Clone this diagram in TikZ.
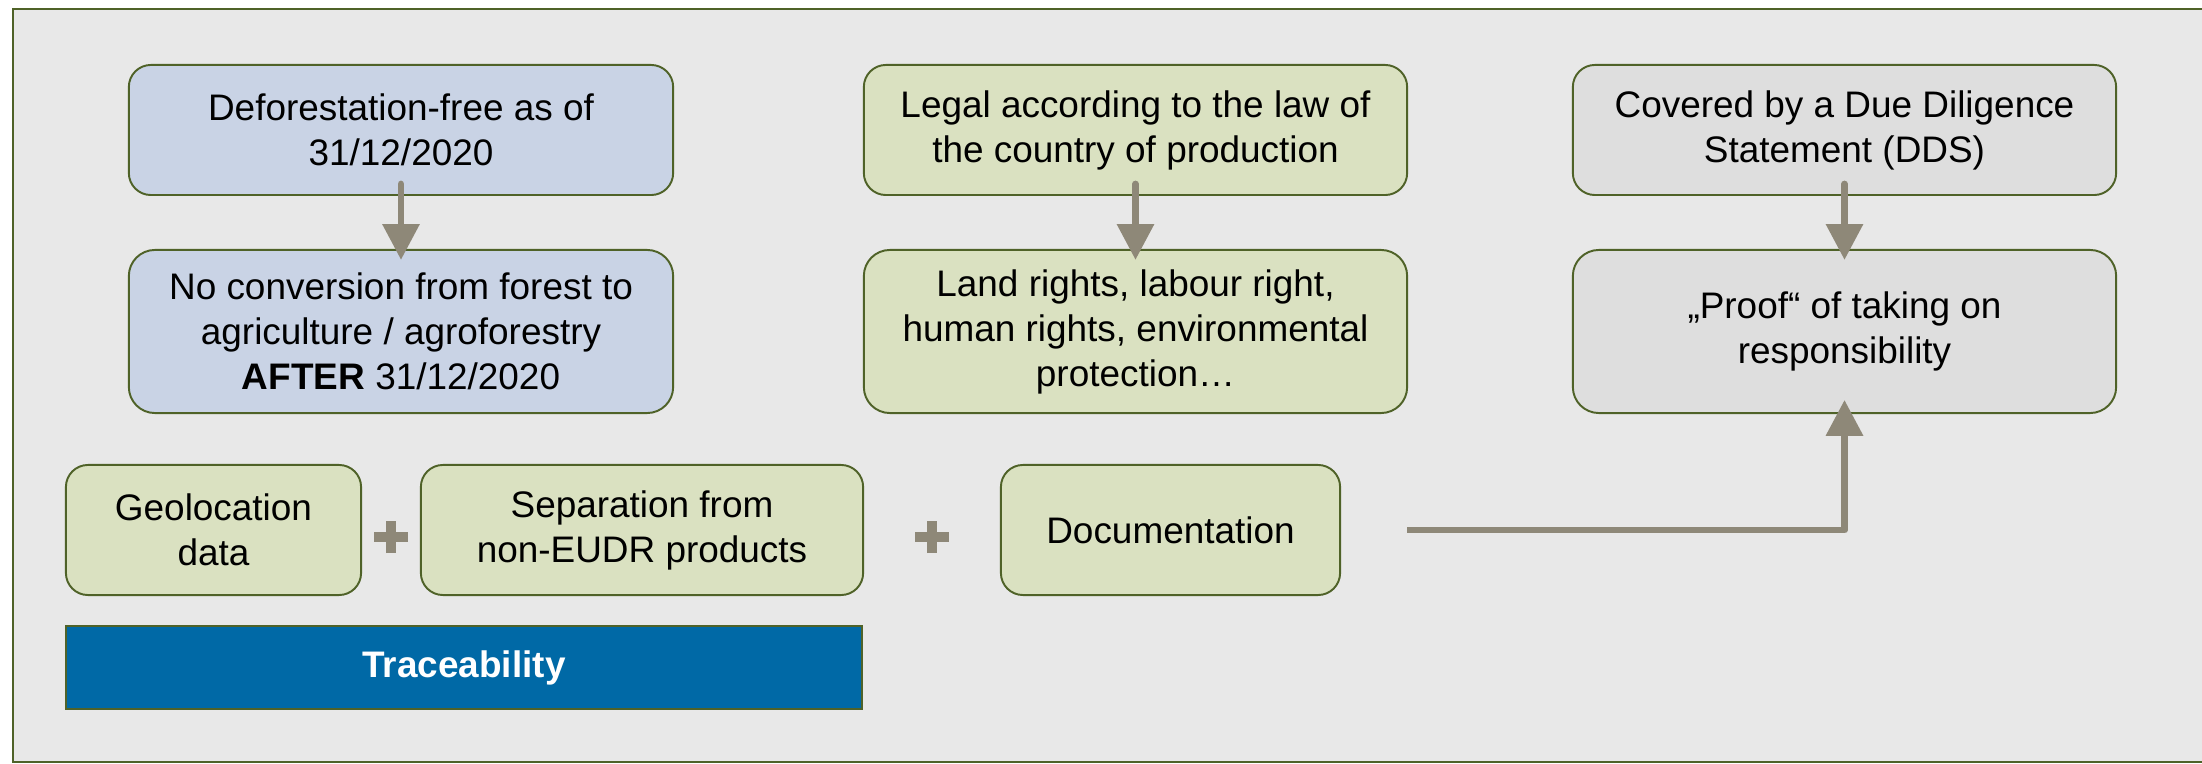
\documentclass[tikz,border=0pt]{standalone}
\usepackage{fontspec}
\setmainfont{Liberation Sans}
\usetikzlibrary{arrows.meta}
\definecolor{bgc}{HTML}{E8E8E8}
\definecolor{framec}{HTML}{4F6228}
\definecolor{bluec}{HTML}{C9D3E5}
\definecolor{greenc}{HTML}{DAE1C1}
\definecolor{greyc}{HTML}{DEDEDE}
\definecolor{arrowc}{HTML}{8E8878}
\definecolor{tracec}{HTML}{0069A6}
\tikzset{
  box/.style={draw=framec, line width=0.55pt, align=center, inner sep=0pt,
    font=\fontsize{10.5pt}{12.8pt}\selectfont, text=black},
  tallbox/.style={box, minimum width=5.44cm, minimum height=1.63cm, rounded corners=0.26cm},
  shortbox/.style={box, minimum height=1.30cm, rounded corners=0.22cm},
  flow/.style={draw=arrowc, line width=1.95pt, -{Triangle[length=10.2pt,width=10.2pt]}},
  plussign/.style={draw=arrowc, line width=2.6pt}
}
\begin{document}
\begin{tikzpicture}[x=0.01cm, y=-0.01cm]
\useasboundingbox (0,0) rectangle (2202,764);
% outer frame
\draw[fill=bgc, draw=framec, line width=0.6pt] (13,9) rectangle (2230,762);

% top row
\node[shortbox, minimum width=5.44cm, fill=bluec] (A1) at (401,130) {Deforestation-free as of\\31/12/2020};
\node[tallbox, fill=bluec] (A2) at (401,331.5) {No conversion from forest to\\agriculture / agroforestry\\\textbf{AFTER} 31/12/2020};
\node[shortbox, minimum width=5.43cm, fill=greenc] (B1) at (1135.5,130) {Legal according to the law of\\the country of production};
\node[tallbox, minimum width=5.43cm, fill=greenc] (B2) at (1135.5,331.5) {Land rights, labour right,\\human rights, environmental\\protection…};
\node[shortbox, minimum width=5.43cm, fill=greyc] (C1) at (1844.5,130) {Covered by a Due Diligence\\Statement (DDS)};
\node[tallbox, minimum width=5.43cm, fill=greyc] (C2) at (1844.5,331.5) {„Proof“ of taking on\\responsibility};

% bottom row
\node[shortbox, minimum width=2.95cm, fill=greenc] (geo) at (213.5,530) {Geolocation\\data};
\node[shortbox, minimum width=4.42cm, fill=greenc] (sep) at (642,530) {Separation from\\non-EUDR products};
\node[shortbox, minimum width=3.39cm, fill=greenc] (doc) at (1170.5,530) {Documentation};
\node[box, minimum width=7.96cm, minimum height=0.83cm, fill=tracec, text=white, font=\fontsize{10.5pt}{12.8pt}\selectfont\bfseries] (trace) at (464,667.5) {Traceability};

% plus signs
\coordinate (p1) at (391,537);
\coordinate (p2) at (932,537);
\foreach \p in {p1,p2}{
  \draw[plussign] ([xshift=-4.7pt]\p) -- ([xshift=4.7pt]\p);
  \draw[plussign] ([yshift=-4.6pt]\p) -- ([yshift=4.6pt]\p);
}

% arrows
\draw[flow, line cap=round, shorten <=-3.4pt, shorten >=-3.1pt] (A1) -- (A2);
\draw[flow, line cap=round, shorten <=-3.4pt, shorten >=-3.1pt] (B1) -- (B2);
\draw[flow, line cap=round, shorten <=-3.4pt, shorten >=-3.1pt] (C1) -- (C2);
\coordinate (docend) at (1407,530);
\draw[flow, line join=round, shorten >=-4pt] (docend) -| (C2.south);
\end{tikzpicture}
\end{document}
